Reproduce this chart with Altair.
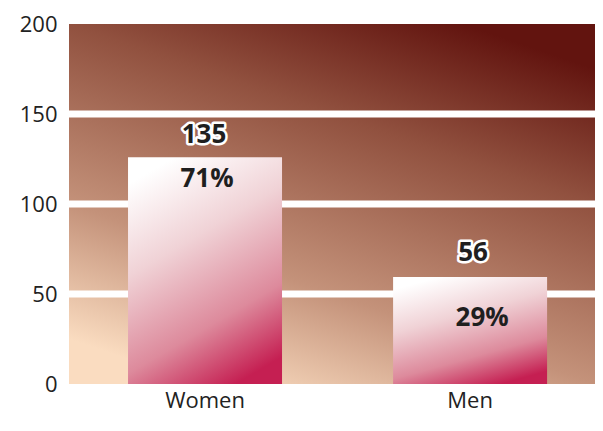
import altair as alt
import pandas as pd

categories = ["Women", "Men"]
bar_heights = [126, 59.5]
count_labels = ["135", "56"]
pct_labels = ["71%", "29%"]
grid_values = [50, 100, 150]
y_ticks = [0, 50, 100, 150, 200]

W, H = 526, 360
FONT = "Open Sans"

df = pd.DataFrame({"cat": categories, "h": bar_heights,
                   "count": count_labels, "pct": pct_labels})
grid_df = pd.DataFrame({"h": grid_values})
bg_df = pd.DataFrame({"a": [0]})

yscale = alt.Scale(domain=[0, 200], nice=False)
yaxis = alt.Axis(title=None, values=y_ticks, ticks=False, domain=False,
                 grid=False, labelFontSize=22, labelPadding=12,
                 labelColor="#222", labelFont=FONT, labelFontWeight=500)
xscale = alt.Scale(paddingInner=0.419, paddingOuter=0.2017, align=0.552)
xaxis = alt.Axis(title=None, labelAngle=0, ticks=False, domain=False,
                 labelFontSize=22, labelPadding=6, labelColor="#222",
                 labelFont=FONT, labelFontWeight=500)

def X():
    return alt.X("cat:N", sort=categories, scale=xscale, axis=xaxis)

def Y(field="h:Q"):
    return alt.Y(field, scale=yscale, axis=yaxis)

bg_grad = alt.LinearGradient(
    gradient="linear",
    stops=[alt.GradientStop(color="#fadcc0", offset=0),
           alt.GradientStop(color="#c4927a", offset=0.3),
           alt.GradientStop(color="#91513f", offset=0.7),
           alt.GradientStop(color="#62140f", offset=1)],
    x1=0.25, y1=1, x2=0.75, y2=0)

bar_grad = alt.LinearGradient(
    gradient="linear",
    stops=[alt.GradientStop(color="#ffffff", offset=0),
           alt.GradientStop(color="#f0d2d6", offset=0.35),
           alt.GradientStop(color="#dd8a9c", offset=0.72),
           alt.GradientStop(color="#c51f52", offset=1)],
    x1=0.3, y1=0, x2=0.7, y2=1)

bg = alt.Chart(bg_df).mark_rect(color=bg_grad).encode(
    x=alt.value(0), x2=alt.value(W), y=alt.value(0), y2=alt.value(H))

grid = alt.Chart(grid_df).mark_rule(color="white", strokeWidth=7).encode(
    x=alt.value(0), x2=alt.value(W), y=Y())

bars = alt.Chart(df).mark_bar(color=bar_grad).encode(x=X(), y=Y())

def label(cat, field, dx, dy, halo=False):
    kw = dict(fontSize=26, fontWeight="bold", font=FONT, baseline="middle",
              dx=dx, dy=dy)
    if halo:
        kw.update(color="white", stroke="white", strokeWidth=5, strokeJoin="round")
    else:
        kw.update(color="#1f1f1f")
    return alt.Chart(df).transform_filter(alt.datum.cat == cat).mark_text(
        **kw).encode(x=X(), y=Y(), text=f"{field}:N")

layers = [bg, grid, bars,
          label("Women", "count", -1, -22, halo=True),
          label("Women", "count", -1, -22),
          label("Men", "count", 3, -24, halo=True),
          label("Men", "count", 3, -24),
          label("Women", "pct", 2, 22),
          label("Men", "pct", 12, 41)]

chart = alt.layer(*layers).properties(
    width=W, height=H,
    autosize=alt.AutoSizeParams(type="none"),
    padding={"left": 61, "top": 16, "right": 0, "bottom": 38},
).configure_view(stroke=None)

chart.save("out.html", embed_options={"renderer": "svg", "actions": False})
